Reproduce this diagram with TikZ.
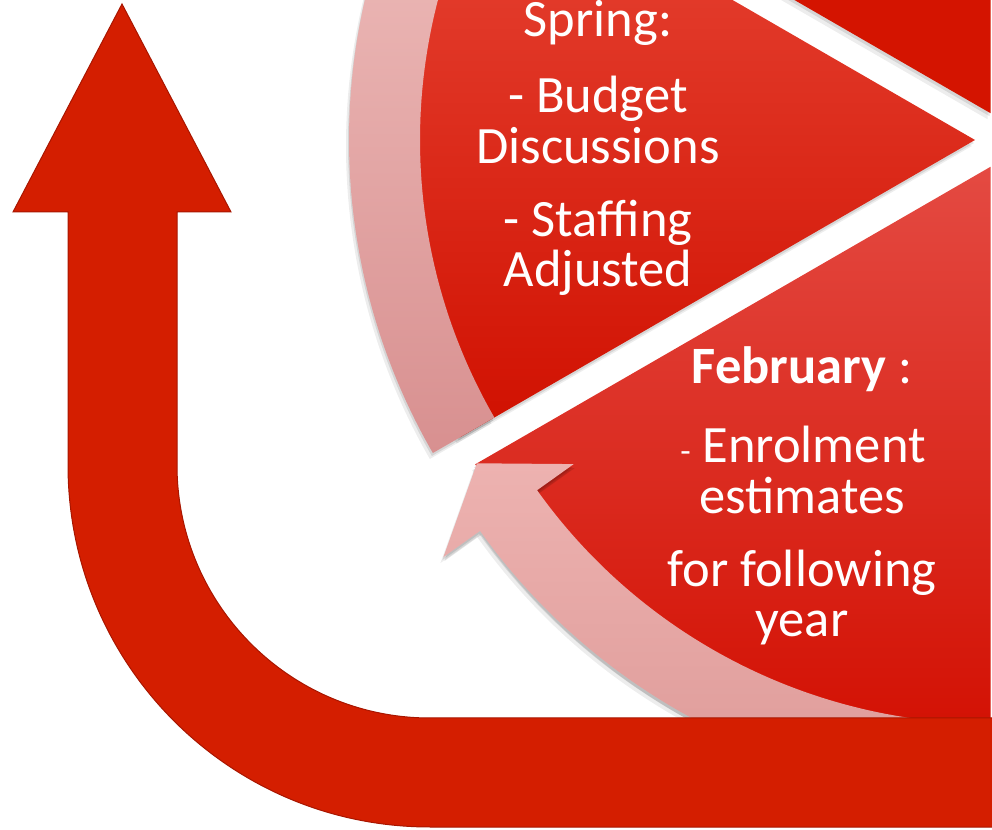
\documentclass[tikz,border=0pt]{standalone}
\usepackage{fontspec}
\setmainfont{Carlito}
\definecolor{bigred}{HTML}{D41E00}
\definecolor{bigdark}{HTML}{A81600}
\definecolor{wtop}{HTML}{E84838}
\definecolor{wmid}{HTML}{E01A08}
\definecolor{wbot}{HTML}{D01000}
\definecolor{ftop}{HTML}{E44A42}
\definecolor{fmid}{HTML}{E01A06}
\definecolor{fbot}{HTML}{D20E00}
\definecolor{twedge}{HTML}{D41400}
\definecolor{ptop}{HTML}{F0C0BE}
\definecolor{pbot}{HTML}{D89090}
\definecolor{qtop}{HTML}{EDB2B0}
\definecolor{qbot}{HTML}{DC9896}
\newcommand\springwedge[1]{([shift={#1}]S) -- ++(150:595) arc[start angle=150,end angle=210,radius=595] -- cycle}
\newcommand\febwedge[1]{([shift={#1}]F) -- ++(210:595) arc[start angle=210,end angle=270,radius=595] -- cycle}
\newcommand\topwedge[1]{([shift={#1}]T) -- ++(90:595) arc[start angle=90,end angle=150,radius=595] -- cycle}
\newcommand\springband[1]{([shift={#1},shift={(210:555)}]S) -- ++(210:71) arc[start angle=210,end angle=150,radius=626] -- ([shift={#1},shift={(150:555)}]S) arc[start angle=150,end angle=210,radius=555] -- cycle}
\newcommand\febband[1]{([shift={#1},shift={(280:557)}]F) arc[start angle=280,end angle=215.5,radius=557] -- ([shift={#1},shift={(215.5:512)}]F) -- ([shift={#1},shift={(210:593)}]F) -- ([shift={#1},shift={(215.5:672)}]F) -- ([shift={#1},shift={(215.5:627)}]F) arc[start angle=215.5,end angle=280,radius=627] -- cycle}
\begin{document}
\begin{tikzpicture}[x=1pt,y=1pt,
  txt/.style={text=white, font=\fontsize{52.5}{60}\selectfont, anchor=base, inner sep=0pt},
  shA/.style={fill=black, opacity=0.10},
  shB/.style={fill=black, opacity=0.07}]
\useasboundingbox (0,0) rectangle (992,829);
\clip (0,0) rectangle (992,829);
\coordinate (S) at (975,689);
\coordinate (F) at (990.5,662.2);
\coordinate (T) at (990.5,715.8);
% wedge shadows
\fill[shA] \topwedge{(-1,-3)};
\fill[shB] \topwedge{(-3,-6)};
\fill[shA] \springwedge{(-1,-3)};
\fill[shB] \springwedge{(-3,-6)};
\fill[shA] \febwedge{(-1,-3)};
\fill[shB] \febwedge{(-3,-6)};
% wedges
\fill[twedge] \topwedge{(0,0)};
\shade[top color=wtop, middle color=wmid, bottom color=wbot] \springwedge{(0,0)};
\shade[top color=ftop, middle color=fmid, bottom color=fbot] \febwedge{(0,0)};
% pink circular arrows with soft shadows
\fill[shA] \springband{(-1,-3)};
\fill[shB] \springband{(-3,-6)};
\fill[shA] \febband{(-1,-3)};
\fill[shB] \febband{(-3,-6)};
\fill[shA] \febband{(1,-4)};
\shade[top color=ptop, bottom color=pbot] \springband{(0,0)};
\shade[top color=qtop, bottom color=qbot] \febband{(0,0)};
% big U-turn arrow
\path[fill=bigred, draw=bigdark, line width=1] (995,111) -- (430,111)
  arc[start angle=270,end angle=180,radius=253] -- (177,617) -- (231,617)
  -- (122,825) -- (13,617) -- (68,617) -- (68,364)
  arc[start angle=180,end angle=270,radius=362] -- (995,2) -- cycle;
% texts
\node[txt] (sp1) at (598,792) {Spring:};
\node[txt] (sp2) at (598,716) {- Budget};
\node[txt] (sp3) at (598,665) {Discussions};
\node[txt] (sp4) at (598,592) {- Staffing};
\node[txt] (sp5) at (598,542) {Adjusted};
\node[txt] (fe1) at (802,445) {\textbf{February} :};
\node[txt] (fe2) at (803,366) {{\fontsize{34}{40}\selectfont -} Enrolment};
\node[txt] (fe3) at (802,315) {estimates};
\node[txt] (fe4) at (802,242) {for following};
\node[txt] (fe5) at (802,192) {year};
\end{tikzpicture}
\end{document}
